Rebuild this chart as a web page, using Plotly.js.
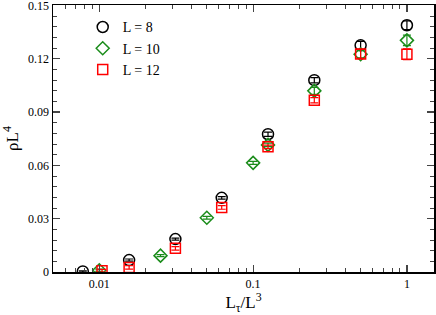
<!DOCTYPE html>
<html><head><meta charset="utf-8">
<script src="https://cdn.plot.ly/plotly-3.0.1.min.js"></script>
<style>html,body{margin:0;padding:0;background:#fff;}#chart{width:436px;height:315px;}</style>
</head><body><div id="chart"></div>
<script>
// L = 8
const x8 = [0.0078125, 0.015625, 0.03125, 0.0625, 0.125, 0.25, 0.5, 1];
const y8 = [0.0003, 0.0067, 0.0185, 0.0417, 0.0775, 0.1079, 0.1275, 0.1388];
const e8 = [0.0004, 0.0006, 0.0006, 0.0007, 0.0012, 0.0015, 0.0022, 0.0025];
// L = 10
const x10 = [0.01, 0.025, 0.05, 0.1, 0.125, 0.25, 0.5, 1];
const y10 = [0.0010, 0.0092, 0.0305, 0.0614, 0.0715, 0.1019, 0.1225, 0.1303];
const e10 = [0.0006, 0.0006, 0.0008, 0.0008, 0.0010, 0.0020, 0.0020, 0.0030];
// L = 12
const x12 = [0.0104167, 0.015625, 0.03125, 0.0625, 0.125, 0.25, 0.5, 1];
const y12 = [0.0007, 0.0026, 0.0133, 0.0363, 0.0704, 0.0966, 0.1227, 0.1225];
const e12 = [0.0008, 0.0010, 0.0010, 0.0010, 0.0010, 0.0015, 0.0025, 0.0030];
const names = ["L = 8", "L = 10", "L = 12"];
const xTicks = [0.01, 0.1, 1];
const xTickText = ["0.01", "0.1", "1"];
const xMinor = [0.006,0.007,0.008,0.009,0.02,0.03,0.04,0.05,0.06,0.07,0.08,0.09,0.2,0.3,0.4,0.5,0.6,0.7,0.8,0.9];

function tr(x, y, e, name, sym, col, size) {
  return {x: x, y: y, name: name, type: 'scatter', mode: 'markers',
    marker: {symbol: sym, size: size, color: col, line: {color: col, width: 1.5}},
    error_y: {type: 'data', array: e, visible: true, color: col, thickness: 1.2, width: 4}};
}
const data = [
  tr(x8, y8, e8, names[0], 'circle-open', '#000000', 11),
  tr(x10, y10, e10, names[1], 'diamond-open', '#1a8c1a', 10),
  tr(x12, y12, e12, names[2], 'square-open', '#ff0000', 10)
];
const fam = 'Liberation Serif, Times New Roman, serif';
const font = {family: fam, size: 12, color: '#000'};
const layout = {
  width: 436, height: 315,
  margin: {l: 53, r: 2, t: 5, b: 43},
  paper_bgcolor: '#fff', plot_bgcolor: '#fff',
  font: font,
  showlegend: true,
  legend: {x: 0.078, y: 0.976, xanchor: 'left', yanchor: 'top', bgcolor: 'rgba(0,0,0,0)',
    font: {family: fam, size: 14, color: '#000'}, tracegroupgap: 0, itemwidth: 30},
  xaxis: {type: 'log', range: [Math.log10(0.005), Math.log10(1.5)],
    tickvals: xTicks, ticktext: xTickText, ticks: 'inside', ticklen: 7, tickwidth: 1.2,
    showgrid: false, zeroline: false, showline: true, linewidth: 1.5, linecolor: '#000',
    mirror: 'allticks', tickfont: font, ticklabeloverflow: 'allow',
    minor: {tickvals: xMinor, ticks: 'inside', ticklen: 4, tickwidth: 1, showgrid: false},
    title: {text: 'L<sub>τ</sub>/L<sup>3</sup>', font: {family: fam, size: 17}, standoff: 6}},
  yaxis: {range: [0, 0.1502], tickmode: 'linear', tick0: 0, dtick: 0.03, ticks: 'inside', ticklen: 7, tickwidth: 1.2,
    showgrid: false, zeroline: false, showline: true, linewidth: 1.5, linecolor: '#000',
    mirror: 'allticks', tickfont: font, ticklabeloverflow: 'allow',
    minor: {dtick: 0.006, tick0: 0, ticks: 'inside', ticklen: 4, tickwidth: 1, showgrid: false},
    title: {text: 'ρL<sup>4</sup>', font: {family: fam, size: 17}, standoff: 6}}
};
Plotly.newPlot('chart', data, layout, {staticPlot: true, displayModeBar: false});
</script></body></html>
